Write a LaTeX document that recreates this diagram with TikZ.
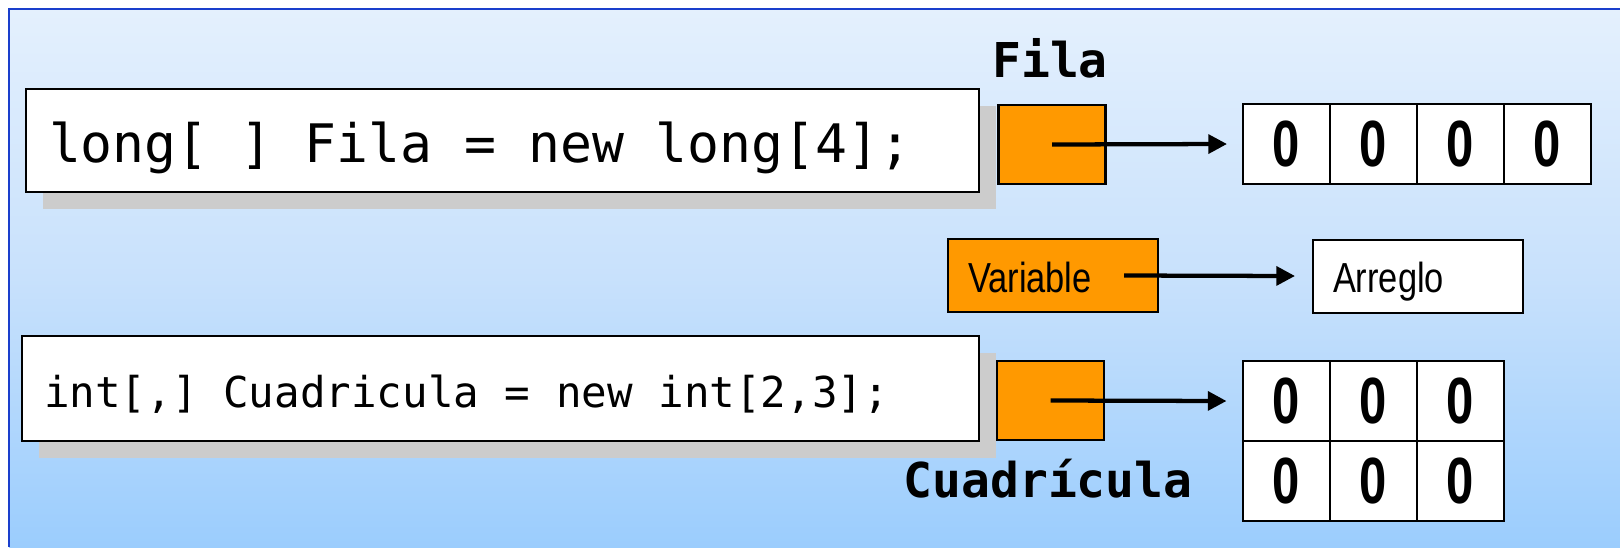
\documentclass[tikz,border=0pt]{standalone}
\usepackage{fontspec}
\usepackage{graphicx}
\usetikzlibrary{arrows.meta,shadows}

\newfontfamily\codefont{DejaVu Sans Mono}
\newfontfamily\slidesans{Liberation Sans}

\definecolor{bgtop}{HTML}{E4F0FD}
\definecolor{bgmid}{HTML}{C8E1FC}
\definecolor{bgbot}{HTML}{9BCDFD}
\definecolor{framecol}{HTML}{1A3FCC}
\definecolor{varorange}{HTML}{FF9900}
\definecolor{shadowgray}{HTML}{CCCCCC}

% light-to-blue slide background
\pgfdeclareverticalshading{slidebg}{100bp}{color(0bp)=(bgbot); color(25bp)=(bgbot); color(50bp)=(bgmid); color(75bp)=(bgtop); color(100bp)=(bgtop)}

% one pixel of the slide
\newcommand\pxu{0.75pt}
\newcommand\narrowtext[2][0.82]{\scalebox{#1}[1]{#2}}
% a blank exactly one monospaced character cell wide
\newcommand\codegap{\hspace*{0.602em}}

\tikzset{
  codebox/.style={draw=black, fill=white, line width=1.9pt, inner ysep=0pt,
    align=left, text depth=0pt,
    drop shadow={shadow xshift=12.5pt, shadow yshift=-12.5pt, fill=shadowgray, opacity=1}},
  refbox/.style={draw=black, fill=varorange, line width=1.6pt, inner sep=0pt,
    minimum width={107*\pxu}, minimum height={79*\pxu}},
  legendbox/.style={draw=black, line width=1.5pt, inner ysep=0pt, inner xsep={20*\pxu},
    minimum height={73*\pxu}, text width={170*\pxu}, align=left,
    text height={33*\pxu}, text depth=0pt,
    font=\slidesans\fontsize{31.5pt}{36pt}\selectfont},
  cell/.style={draw=black, fill=white, line width=1.5pt, inner sep=0pt,
    minimum width={87*\pxu}, minimum height={80*\pxu},
    font=\slidesans\fontsize{49pt}{56pt}\bfseries\selectfont},
  varname/.style={anchor=base, inner sep=0pt,
    font=\codefont\fontsize{36pt}{42pt}\bfseries\selectfont},
  ptr/.style={line width=3.2pt, -{Triangle[length=14pt,width=14pt]}},
}

\newcommand\zerocell{\narrowtext[0.75]{0}}

\begin{document}
\begin{tikzpicture}[x=0.75pt, y=-0.75pt]
  \useasboundingbox (0,0) rectangle (1620,547);

  % slide background and its frame
  \shade[shading=slidebg] (9,9) rectangle (1620,547);
  \draw[framecol, line width=1.5pt] (9,547) -- (9,9) -- (1620,9);

  % declaration of the one-dimensional array
  \node[codebox, minimum height={103*\pxu}, inner xsep={23*\pxu}, text width={907*\pxu},
        text height={43*\pxu}, font=\codefont\fontsize{39.8pt}{48pt}\selectfont]
    (decl1) at (502.5,140.5)
    {long[\codegap]\codegap Fila\codegap=\codegap new\codegap long[4];};

  \node[varname] (filaname) at (1050,77) {Fila};
  \node[refbox] (filaref) at (1052,144.5) {};

  \node[cell] (f1) at (1286.5,144) {\zerocell};
  \node[cell] (f2) at (1373.5,144) {\zerocell};
  \node[cell] (f3) at (1460.5,144) {\zerocell};
  \node[cell] (f4) at (1547.5,144) {\zerocell};

  \draw[ptr] (filaref.center) -- ([xshift=-11.25pt]f1.west);

  % legend: a variable refers to an array
  \node[legendbox, fill=varorange] (legvar) at (1053,275.5)
    {\narrowtext{Variable}};
  \node[legendbox, fill=white] (legarr) at (1418,276)
    {\narrowtext{Arreglo}};
  \draw[ptr] ([xshift=-26.25pt]legvar.east) -- ([xshift=-12.75pt]legarr.west);

  % declaration of the two-dimensional array
  \node[codebox, minimum height={105*\pxu}, inner xsep={22*\pxu}, text width={913*\pxu},
        text height={37*\pxu}, font=\codefont\fontsize{31.9pt}{38pt}\selectfont]
    (decl2) at (500.5,388.5)
    {int[,]\codegap Cuadricula\codegap=\codegap new\codegap int[2,3];};

  \node[refbox] (cuadref) at (1050.5,400.5) {};
  \node[varname] (cuadname) at (1048,497) {Cuadrícula};

  \node[cell] (g11) at (1286,401) {\zerocell};
  \node[cell] (g12) at (1373,401) {\zerocell};
  \node[cell] (g13) at (1460,401) {\zerocell};
  \node[cell] (g21) at (1286,481) {\zerocell};
  \node[cell] (g22) at (1373,481) {\zerocell};
  \node[cell] (g23) at (1460,481) {\zerocell};

  \draw[ptr] (cuadref.center) -- ([xshift=-11.25pt]g11.west);
\end{tikzpicture}
\end{document}
